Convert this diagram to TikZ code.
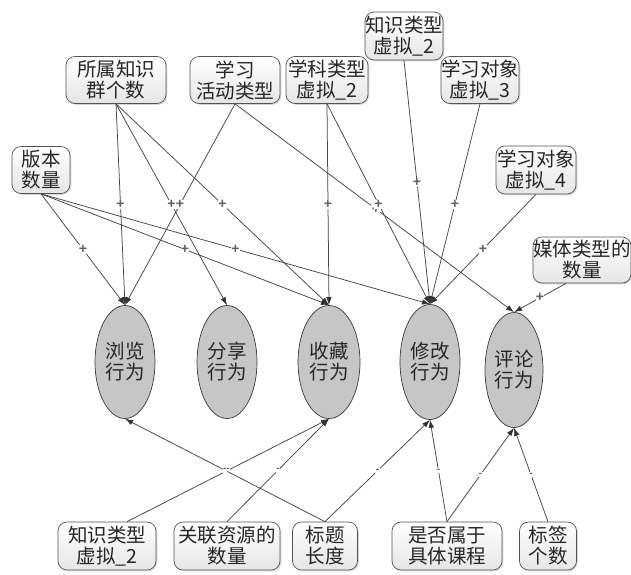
\documentclass[tikz,border=0pt]{standalone}
\usepackage{fontspec}
\newfontfamily\cjk{Noto Sans CJK SC}
\newfontfamily\signfont{Liberation Sans}
\usetikzlibrary{arrows.meta,shapes.geometric,shadows}
\begin{document}
\begin{tikzpicture}[x=1pt,y=-1pt,
  box/.style={draw=gray!65!black, rounded corners=9pt, top color=white, bottom color=gray!20,
    line width=0.7pt, align=center, inner sep=0pt, font=\cjk\fontsize{19.5}{21}\selectfont,
    text=black!85, drop shadow={shadow xshift=1.3pt, shadow yshift=-1.3pt, opacity=0.3, fill=gray}},
  oval/.style={ellipse, draw=gray!45!black, fill=gray!45, line width=0.7pt, align=center,
    inner sep=0pt, font=\cjk\fontsize{19.5}{21}\selectfont, text=black!85},
  link/.style={draw=gray!55!black, line width=0.75pt, -{Latex[length=8pt,width=5.5pt,color=black!80]}},
  plusl/.style={fill=white, inner sep=0.4pt, text=gray!75!black, font=\signfont\bfseries\fontsize{14}{14}\selectfont},
  minusl/.style={fill=white, inner sep=0.8pt, text=gray!75!black, font=\signfont\bfseries\fontsize{10}{10}\selectfont}
]
\useasboundingbox[fill=white] (0,0) rectangle (631,574);

% behaviour ellipses
\node[oval, minimum width=60, minimum height=113] (b1) at (125,362) {浏览\\行为};
\node[oval, minimum width=60, minimum height=113] (b2) at (227,362) {分享\\行为};
\node[oval, minimum width=62, minimum height=113] (b3) at (329,362) {收藏\\行为};
\node[oval, minimum width=60, minimum height=115] (b4) at (430,362) {修改\\行为};
\node[oval, minimum width=58, minimum height=115] (b5) at (514,370) {评论\\行为};

% top boxes
\node[box, minimum width=100, minimum height=47] (A) at (116,80) {所属知识\\群个数};
\node[box, minimum width=90, minimum height=47] (B) at (235,80) {学习\\活动类型};
\node[box, minimum width=82, minimum height=47] (C) at (327,80) {学科类型\\虚拟\_2};
\node[box, minimum width=78, minimum height=48] (D) at (404,36) {知识类型\\虚拟\_2};
\node[box, minimum width=78, minimum height=47] (E) at (480,80) {学习对象\\虚拟\_3};
\node[box, minimum width=58, minimum height=47] (F) at (41,170) {版本\\数量};
\node[box, minimum width=80, minimum height=48] (G) at (536,170) {学习对象\\虚拟\_4};
\node[box, minimum width=98, minimum height=46] (H) at (582,260) {媒体类型的\\数量};

% bottom boxes
\node[box, minimum width=98, minimum height=48] (I) at (107,546) {知识类型\\虚拟\_2};
\node[box, minimum width=106, minimum height=48] (J) at (227,546) {关联资源的\\数量};
\node[box, minimum width=65, minimum height=48] (K) at (325,546) {标题\\长度};
\node[box, minimum width=110, minimum height=48] (L) at (447,546) {是否属于\\具体课程};
\node[box, minimum width=57, minimum height=48] (M) at (548,546) {标签\\个数};

% top edges
\draw[link] (A.south) -- node[plusl, midway]{+} (b1.north);
\draw[link] (A.south) -- node[plusl, midway]{+} (b2.north);
\draw[link] (A.south) -- node[plusl, midway]{+} (b3.north);
\draw[link] (B.south) -- node[plusl, midway]{+} (b1.north);
\draw[link] (B.south) -- node[plusl, pos=0.505]{+} (b5.north);
\draw[link] (C.south) -- node[plusl, midway]{+} (b3.north);
\draw[link] (C.south) -- node[plusl, midway]{+} (b4.north);
\draw[link] (D.south) -- node[plusl, midway]{+} (b4.north);
\draw[link] (E.south) -- node[plusl, midway]{+} (b4.north);
\draw[link] (G.south) -- node[plusl, midway]{+} (b4.north);
\draw[link] (F.south) -- node[plusl, midway]{+} (b1.north);
\draw[link] (F.south) -- node[plusl, midway]{+} (b3.north);
\draw[link] (F.south) -- node[plusl, midway]{+} (b4.north);
\draw[link] ([xshift=-16pt]H.south) -- node[plusl, midway]{+} (b5.north);

% bottom edges
\draw[link] ([xshift=20pt]I.north) -- node[minusl, midway]{-} (b3.south);
\draw[link] (J.north) -- node[minusl, midway]{-} (b3.south);
\draw[link] (K.north) -- node[minusl, midway]{-} (b1.south);
\draw[link] (K.north) -- node[minusl, midway]{-} (b4.south);
\draw[link] (L.north) -- node[minusl, midway]{-} (b4.south);
\draw[link] (L.north) -- node[minusl, midway]{-} (b5.south);
\draw[link] (M.north) -- node[minusl, midway]{-} (b5.south);
\end{tikzpicture}
\end{document}
